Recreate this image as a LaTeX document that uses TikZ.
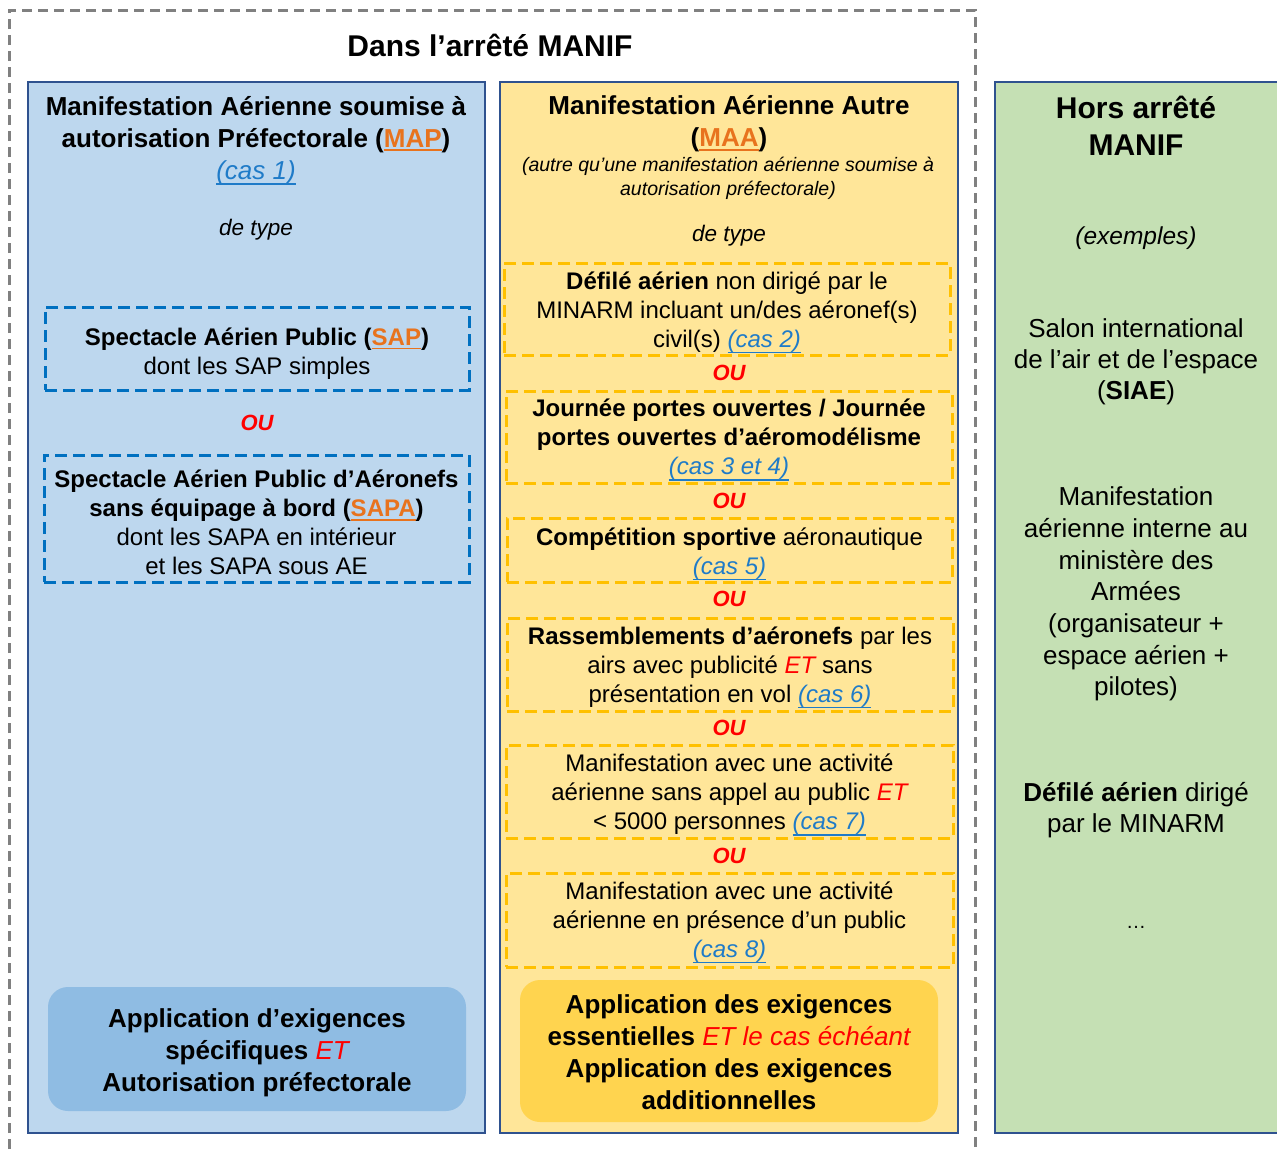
\documentclass[tikz,border=0pt]{standalone}
\usepackage{fontspec}
\setmainfont{Liberation Sans}

\definecolor{colblue}{HTML}{BDD7EE}
\definecolor{colyellow}{HTML}{FFE699}
\definecolor{colgreen}{HTML}{C5E0B4}
\definecolor{colframe}{HTML}{2F528F}
\definecolor{dashblue}{HTML}{0070C0}
\definecolor{dashyellow}{HTML}{FFC000}
\definecolor{outergray}{HTML}{808080}
\definecolor{acrorange}{HTML}{E8731E}
\definecolor{linkblue}{HTML}{1F7BC8}
\definecolor{boxblue}{HTML}{8FBCE3}
\definecolor{boxyellow}{HTML}{FFD44F}

\newcommand\fs[2]{\fontsize{#1}{#2}\selectfont}
% underline with a chosen depth, in the current colour
\newcommand\ulat[2]{\leavevmode\setbox0\hbox{#2}\rlap{\rule[-#1]{\wd0}{1.6pt}}\box0}
\newcommand\acro[1]{\textcolor{acrorange}{\ulat{4pt}{#1}}}
\newcommand\caslink[1]{{\mdseries\itshape\textcolor{linkblue}{\ulat{6pt}{#1}}}}
\newcommand\redit[1]{{\mdseries\itshape\textcolor{red}{#1}}}

\tikzset{
  column/.style={draw=colframe, line width=2pt, inner sep=0pt},
  dbox/.style={line width=3pt, dash pattern=on 12pt off 6pt, inner sep=0pt},
  bluebox/.style={dbox, draw=dashblue},
  yelbox/.style={dbox, draw=dashyellow},
  txt/.style={align=center, inner sep=0pt},
  boxtxt/.style={txt, font=\fs{24}{29}},
  ou/.style={inner sep=0pt, text=red, font=\fs{22}{26}\bfseries\itshape},
  appl/.style={rounded corners=20pt, inner sep=0pt},
  appltxt/.style={txt, font=\fs{26}{32}\bfseries},
}

\begin{document}
\begin{tikzpicture}[x=1pt,y=-1pt]
\useasboundingbox (0,0) rectangle (1277,1149);
\fill[white] (0,0) rectangle (1277,1149);

% frame of the regulation scope
\draw[outergray, line width=3pt, dash pattern=on 10pt off 6pt]
  (9,1165) -- (9,10) -- (975,10) -- (975,1165);
\node[txt, font=\fs{30}{36}\bfseries] (title) at (490,45) {Dans l’arrêté MANIF};

% the three columns
\node[column, fill=colblue, minimum width=457, minimum height=1051] (mapcol) at (256.5,607.5) {};
\node[column, fill=colyellow, minimum width=458, minimum height=1051] (maacol) at (729,607.5) {};
\node[column, fill=colgreen, minimum width=320, minimum height=1051] (horscol) at (1155,607.5) {};

% ---- MAP column
\node[txt, font=\fs{26}{32}\bfseries] (maphead) at (256,140.5)
  {Manifestation Aérienne soumise à\\autorisation Préfectorale (\acro{MAP})\\\caslink{(cas 1)}};
\node[txt, font=\fs{22.5}{27}\itshape] (maptype) at (256,230) {de type};

\node[bluebox, minimum width=424, minimum height=83] (sap) at (257,348.5) {};
\node[boxtxt] (saptxt) at ([yshift=-5pt]sap.center)
  {\textbf{Spectacle Aérien Public (\acro{SAP})}\\dont les SAP simples};
\node[ou] (ou1) at (257,423) {OU};
\node[bluebox, minimum width=425, minimum height=127] (sapa) at (256.5,518.5) {};
\node[boxtxt] (sapatxt) at ([yshift=-4pt]sapa.center)
  {\textbf{Spectacle Aérien Public d’Aéronefs}\\\textbf{sans équipage à bord (\acro{SAPA})}\\dont les SAPA en intérieur\\et les SAPA sous AE};

\node[appl, fill=boxblue, minimum width=418, minimum height=124] (mapappl) at (257,1049) {};
\node[appltxt] (mapappltxt) at ([yshift=-4pt]mapappl.center)
  {Application d’exigences\\spécifiques \redit{ET}\\Autorisation préfectorale};

% ---- MAA column
\node[txt, font=\fs{26}{32}\bfseries] (maahead) at (729,124)
  {Manifestation Aérienne Autre\\(\acro{MAA})};
\node[txt, font=\fs{19.5}{24}\itshape] (maasub) at (728,178)
  {(autre qu’une manifestation aérienne soumise à\\autorisation préfectorale)};
\node[txt, font=\fs{22.5}{27}\itshape] (maatype) at (729,236) {de type};

\node[yelbox, minimum width=446, minimum height=92] (defile) at (727,309) {};
\node[boxtxt] (defiletxt) at ([yshift=-3.5pt]defile.center)
  {\textbf{Défilé aérien} non dirigé par le\\MINARM incluant un/des aéronef(s)\\civil(s) \caslink{(cas 2)}};
\node[ou] (ouA) at (729,373) {OU};

\node[yelbox, minimum width=446, minimum height=92] (jpo) at (729,437) {};
\node[boxtxt] (jpotxt) at ([yshift=-3pt]jpo.center)
  {\textbf{Journée portes ouvertes / Journée}\\\textbf{portes ouvertes d’aéromodélisme}\\\caslink{(cas 3 et 4)}};
\node[ou] (ouB) at (729,501) {OU};

\node[yelbox, minimum width=445, minimum height=64] (compet) at (729.5,550) {};
\node[boxtxt] (compettxt) at ([yshift=-4pt]compet.center)
  {\textbf{Compétition sportive} aéronautique\\\caslink{(cas 5)}};
\node[ou] (ouC) at (729,599) {OU};

\node[yelbox, minimum width=446, minimum height=93] (rassemb) at (730,664.5) {};
\node[boxtxt] (rassembtxt) at ([yshift=-3pt]rassemb.center)
  {\textbf{Rassemblements d’aéronefs} par les\\airs avec publicité \redit{ET} sans\\présentation en vol \caslink{(cas 6)}};
\node[ou] (ouD) at (729,728) {OU};

\node[yelbox, minimum width=447, minimum height=93] (sansappel) at (729.5,791.5) {};
\node[boxtxt] (sansappeltxt) at ([yshift=-3.5pt]sansappel.center)
  {Manifestation avec une activité\\aérienne sans appel au public \redit{ET}\\< 5000 personnes \caslink{(cas 7)}};
\node[ou] (ouE) at (729,856) {OU};

\node[yelbox, minimum width=447, minimum height=94] (public) at (729.5,920) {};
\node[boxtxt] (publictxt) at ([yshift=-2.5pt]public.center)
  {Manifestation avec une activité\\aérienne en présence d’un public\\\caslink{(cas 8)}};

\node[appl, fill=boxyellow, minimum width=418, minimum height=142] (maaappl) at (729,1051) {};
\node[appltxt] (maaappltxt) at ([yshift=-1pt]maaappl.center)
  {Application des exigences\\essentielles \redit{ET le cas échéant}\\Application des exigences\\additionnelles};

% ---- outside the regulation
\node[txt, font=\fs{30}{37}\bfseries] (horshead) at (1136,125.5) {Hors arrêté\\MANIF};
\node[txt, font=\fs{24.5}{29}\itshape] (exemples) at (1136,238) {(exemples)};
\node[txt, font=\fs{26}{31}] (siae) at (1136,362)
  {Salon international\\de l’air et de l’espace\\(\textbf{SIAE})};
\node[txt, font=\fs{26}{31.7}] (interne) at (1136,594)
  {Manifestation\\aérienne interne au\\ministère des\\Armées\\(organisateur +\\espace aérien +\\pilotes)};
\node[txt, font=\fs{26}{31}] (defminarm) at (1136,810.5)
  {\textbf{Défilé aérien} dirigé\\par le MINARM};
\node[txt, font=\fs{20}{24}, anchor=base] (etc) at (1136,928) {…};
\end{tikzpicture}
\end{document}
